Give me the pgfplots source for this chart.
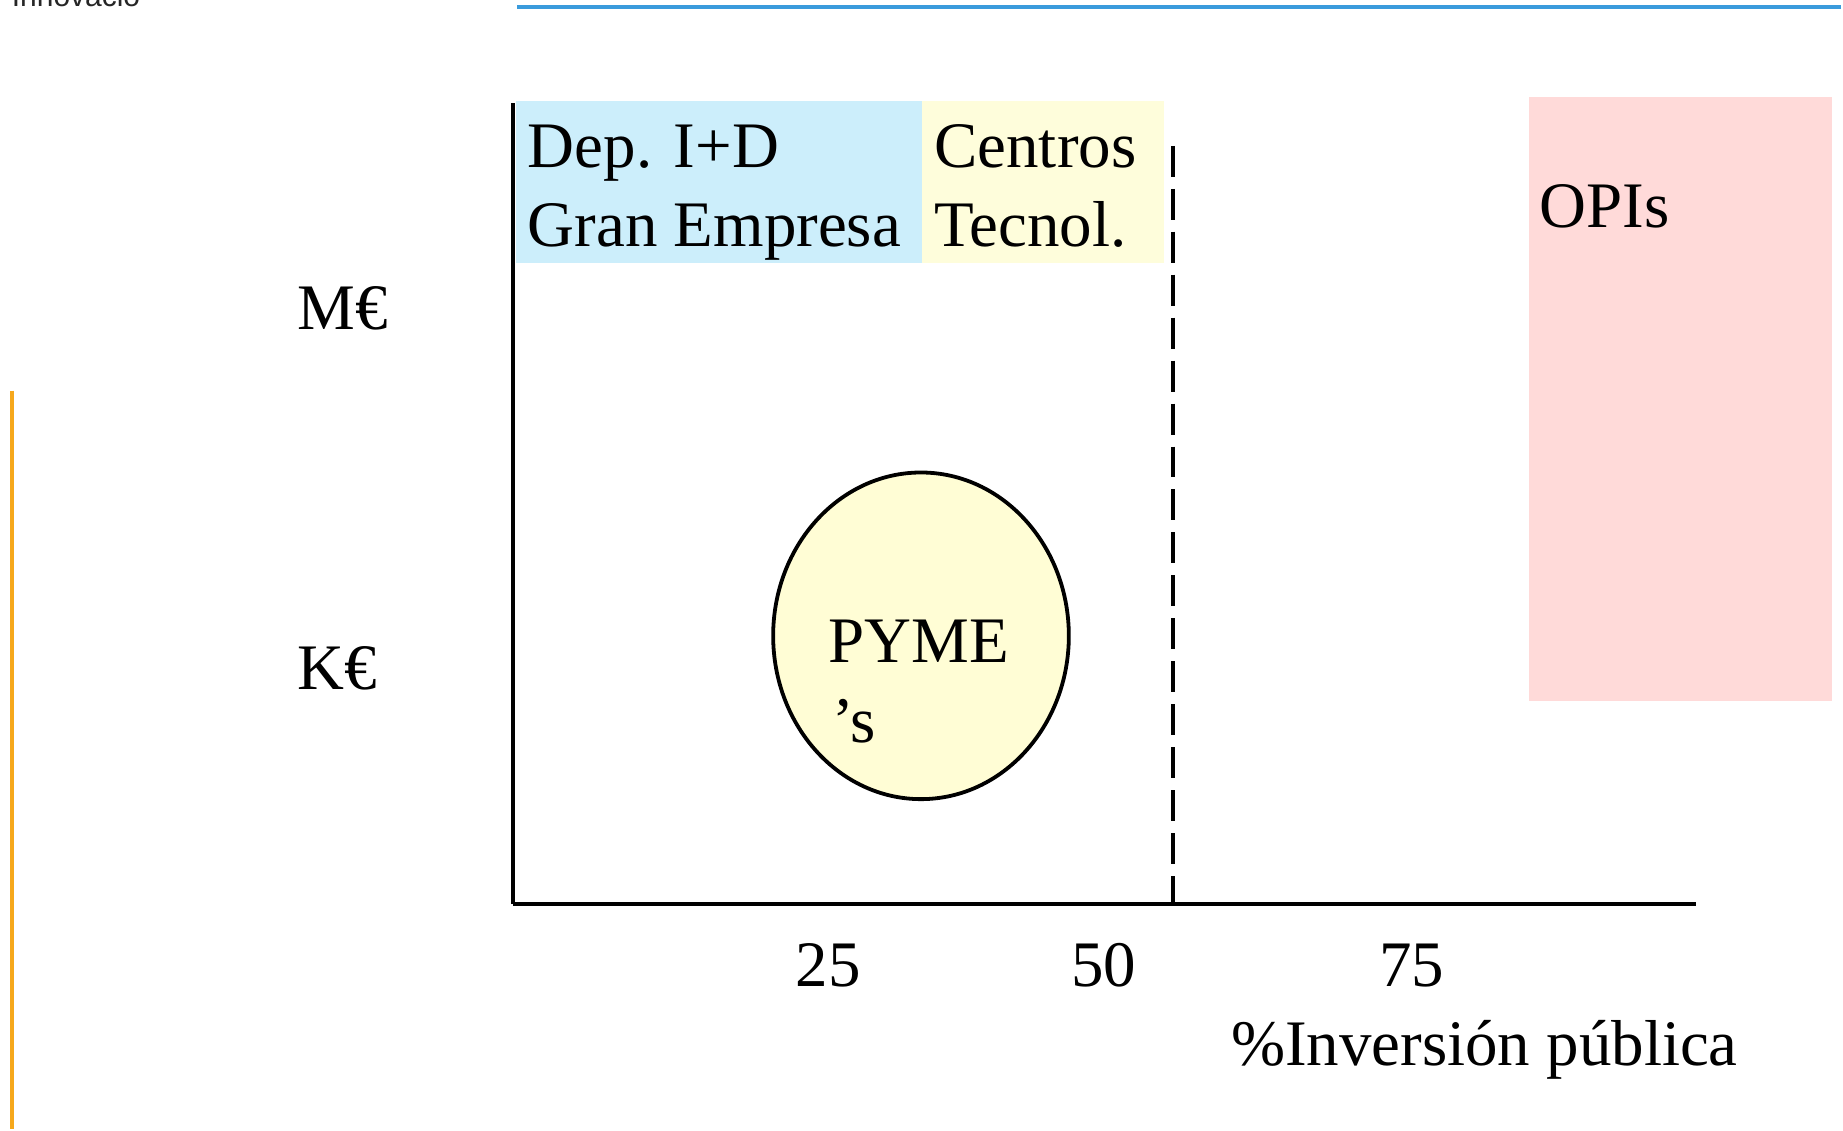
\documentclass[border=0pt]{standalone}
\usepackage{fontspec}
\setmainfont{Liberation Serif}
\newfontfamily\sansf{Liberation Sans}
\usepackage{pgfplots}
\pgfplotsset{compat=1.18}
\definecolor{boxblue}{HTML}{CCEEFB}
\definecolor{boxyellow}{HTML}{FEFDDB}
\definecolor{boxpink}{HTML}{FFDAD9}
\definecolor{ellyellow}{HTML}{FFFDD5}
\definecolor{topblue}{HTML}{3A9BDC}
\definecolor{sideorange}{HTML}{F6A81C}
\begin{document}
\begin{tikzpicture}[font=\fontsize{32.5}{40}\selectfont]
\begin{axis}[
  scale only axis,
  width=592pt, height=401pt,
  xmin=514, xmax=1698, ymin=225, ymax=1027,
  clip=false,
  axis lines=left,
  axis line style={-},
  x axis line style={line width=2.4pt},
  y axis line style={line width=2pt},
  tick style={draw=none},
  major tick length=0pt,
  /pgf/number format/assume math mode=true,
  xtick={829,1105,1413},
  xticklabels={\mbox{25},\mbox{50},\mbox{75}},
  xticklabel style={anchor=base, yshift=-41.5pt},
  ytick={440,800},
  yticklabels={\mbox{K€},\mbox{M€}},
  yticklabel style={anchor=base west, xshift=-111.5pt},
  xlabel={\%Inversión pública},
  xlabel style={at={(rel axis cs:0.6064,-0.202)}, anchor=base west, inner sep=0pt},
]
% page frame
\path (axis cs:0,0) rectangle (axis cs:1843,1130);
% coloured boxes
\addplot[draw=none, fill=boxblue] coordinates {(517,1029) (923,1029) (923,867) (517,867)} -- cycle;
\addplot[draw=none, fill=boxyellow] coordinates {(923,1029) (1165,1029) (1165,867) (923,867)} -- cycle;
\addplot[draw=none, fill=boxpink] coordinates {(1531,1033) (1834,1033) (1834,428) (1531,428)} -- cycle;
% dashed divider
\addplot[black, line width=1.9pt, dash pattern=on 15.5pt off 6pt] coordinates {(1174,984) (1174,225)};
% PYME ellipse
\draw[line width=1.9pt, fill=ellyellow] (axis cs:922,493.5) ellipse [x radius=74pt, y radius=81.75pt];
% decorative slide lines
\addplot[topblue, line width=2pt] coordinates {(518,1123) (1843,1123)};
\addplot[sideorange, line width=2pt] coordinates {(12,739) (12,0)};
% texts
\node[anchor=base west, inner sep=0pt] at (axis cs:528,962) {Dep. I+D};
\node[anchor=base west, inner sep=0pt] at (axis cs:528,883) {Gran Empresa};
\node[anchor=base west, inner sep=0pt] at (axis cs:935,962) {Centros};
\node[anchor=base west, inner sep=0pt] at (axis cs:935,883) {Tecnol.};
\node[anchor=base west, inner sep=0pt] at (axis cs:1541,902) {OPIs};
\node[anchor=base west, inner sep=0pt] at (axis cs:829,467) {PYME};
\node[anchor=base west, inner sep=0pt] at (axis cs:833,387) {’s};
\node[overlay, anchor=base west, inner sep=0pt, text=black!85, font=\sansf\fontsize{15}{18}\selectfont] at (axis cs:11.5,1123) {Innovació};
\end{axis}
\end{tikzpicture}
\end{document}
